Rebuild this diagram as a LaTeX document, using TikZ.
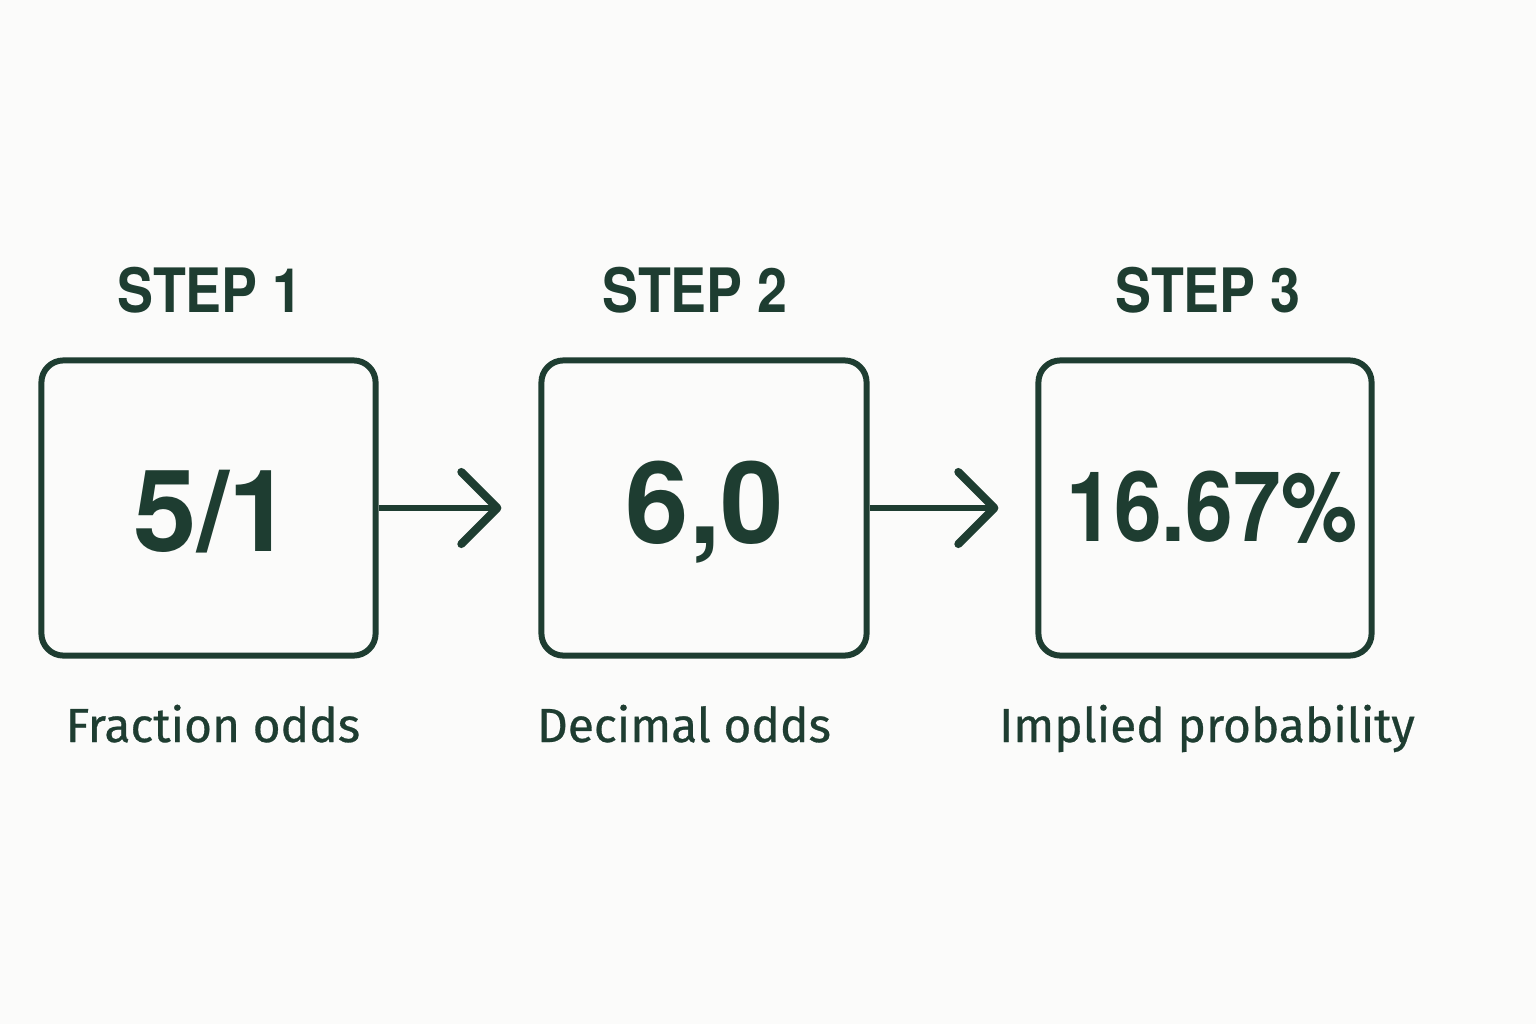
\documentclass[tikz,border=0pt]{standalone}
\usepackage{fontspec}
\usetikzlibrary{arrows.meta}
\setmainfont{TeX Gyre Heros}
\newfontfamily\headfont[FakeStretch=0.88]{TeX Gyre Heros}
\newfontfamily\labelfont[FakeBold=0.6]{Fira Sans}
\definecolor{pine}{HTML}{1E3D31}
\definecolor{paper}{HTML}{FBFBFA}
\begin{document}
\begin{tikzpicture}[x=0.01cm,y=-0.01cm]
	\fill[paper] (0,0) rectangle (1536,1024);
	\useasboundingbox (0,0) rectangle (1536,1024);
	\tikzset{oddsbox/.style={draw=pine,line width=1.7pt,rounded corners=0.22cm,minimum height=2.95cm,inner sep=0pt}}
	\tikzset{flow/.style={pine,line width=1.7pt,shorten >=0.37cm,-{Straight Barb[length=0.36cm,width=0.72cm,line width=2.3pt,line cap=round,line join=round]}}}
	\node[oddsbox,minimum width=3.34cm] (frac) at (208.5,508) {};
	\node[oddsbox,minimum width=3.25cm] (dec) at (704,508) {};
	\node[oddsbox,minimum width=3.33cm] (prob) at (1205,508) {};
	\node[text=pine] (s1) at (210,290) {\headfont\bfseries\fontsize{17.4}{20}\selectfont STEP 1};
	\node[text=pine] (s2) at (695,290) {\headfont\bfseries\fontsize{17.4}{20}\selectfont STEP 2};
	\node[text=pine] (s3) at (1208,290) {\headfont\bfseries\fontsize{17.4}{20}\selectfont STEP 3};
	\node[text=pine] (n1) at (213,512) {\bfseries\fontsize{32.4}{36}\selectfont 5/1};
	\node[text=pine] (n2) at (705,512) {\bfseries\fontsize{32.4}{36}\selectfont 6,0};
	\node[text=pine] (n3) at (1212,507) {\headfont\bfseries\fontsize{27.7}{32}\selectfont 16.67\%};
	\node[text=pine,anchor=base] (l1) at (213,742) {\labelfont\fontsize{13.6}{16}\selectfont Fraction odds};
	\node[text=pine,anchor=base] (l2) at (684,742) {\labelfont\fontsize{13.6}{16}\selectfont Decimal odds};
	\node[text=pine,anchor=base] (l3) at (1207,742) {\labelfont\fontsize{13.6}{16}\selectfont Implied probability};
	\draw[flow] (frac.east) -- (dec.west);
	\draw[flow] (dec.east) -- (prob.west);
\end{tikzpicture}
\end{document}
